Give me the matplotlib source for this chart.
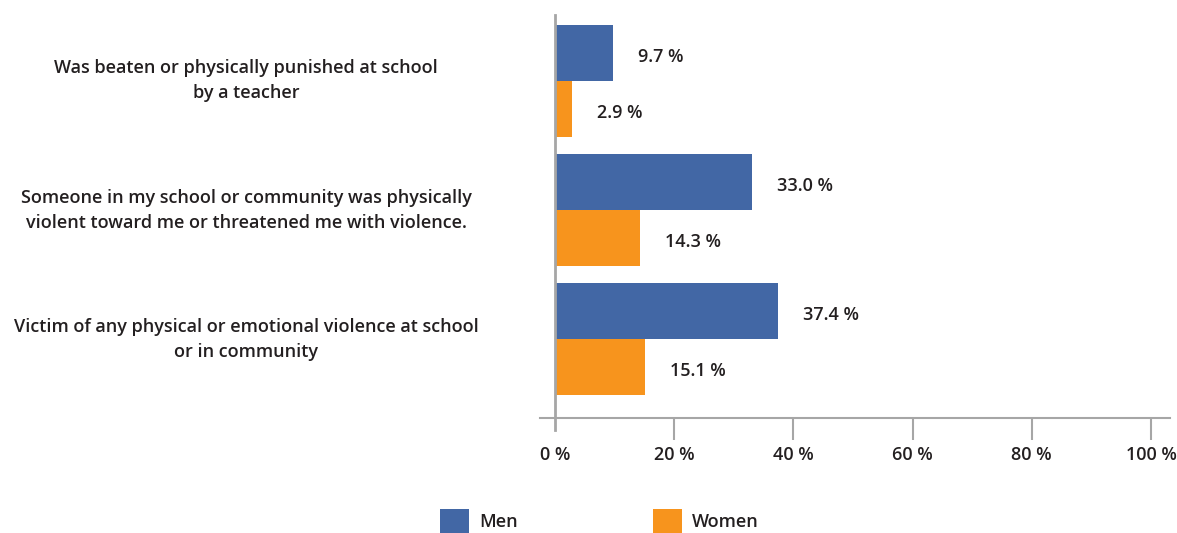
"""
Grouped horizontal bars: experiences of violence at school, men vs women
"""

import matplotlib

matplotlib.use("Agg")
import numpy as np
from matplotlib import pyplot as plt
from matplotlib.ticker import FixedLocator, FuncFormatter

categories = [
    "Was beaten or physically punished at school\nby a teacher",
    "Someone in my school or community was physically\nviolent toward me or threatened me with violence.",
    "Victim of any physical or emotional violence at school\nor in community",
]
men = [9.7, 33.0, 37.4]
women = [2.9, 14.3, 15.1]
series_names = ["Men", "Women"]
x_ticks = [0, 20, 40, 60, 80, 100]

BLUE = "#4267A5"
ORANGE = "#F7941D"
GRID_GREY = "#A6A6A6"
TEXT = "#231F20"

plt.rcParams["font.family"] = ["Open Sans", "DejaVu Sans"]
plt.rcParams["font.size"] = 13.0
plt.rcParams["font.weight"] = "semibold"

fig = plt.figure(figsize=(11.77, 5.33), dpi=100)
ax = fig.add_axes([0.4588, 0.2158, 0.5353, 0.7561])

y = np.arange(len(categories))
h = 0.435
bars_m = ax.barh(y - h / 2, men, height=h, color=BLUE, label=series_names[0], zorder=2)
bars_w = ax.barh(y + h / 2, women, height=h, color=ORANGE, label=series_names[1], zorder=2)

# value labels just past the end of each bar
for bars, vals in ((bars_m, men), (bars_w, women)):
    for b, v in zip(bars, vals):
        ax.annotate(
            f"{v:.1f} %",
            xy=(v, b.get_y() + b.get_height() / 2),
            xytext=(18, -3),
            textcoords="offset points",
            ha="left",
            va="center",
            color=TEXT,
        )

ax.set_xlim(-2.5, 103.2)
ax.set_ylim(2.61, -0.51)

for side in ("top", "right", "left"):
    ax.spines[side].set_visible(False)
ax.spines["bottom"].set_color(GRID_GREY)
ax.spines["bottom"].set_linewidth(1.5)

# vertical axis line at zero, poking slightly below the baseline
ax.plot(
    [0, 0], [-0.03, 1], color=GRID_GREY, lw=2,
    transform=ax.get_xaxis_transform(), clip_on=False, zorder=3,
)

pct = FuncFormatter(lambda v, _: f"{v:.0f} %")
ax.xaxis.set_major_locator(FixedLocator(x_ticks[1:]))
ax.xaxis.set_minor_locator(FixedLocator(x_ticks[:1]))
ax.xaxis.set_major_formatter(pct)
ax.xaxis.set_minor_formatter(pct)
ax.tick_params(axis="x", which="major", length=16, width=1.5, color=GRID_GREY,
               pad=4, labelcolor=TEXT, labelsize=13.0)
ax.tick_params(axis="x", which="minor", length=0, pad=20, labelcolor=TEXT,
               labelsize=13.0)
ax.set_yticks([])

# category labels centred in the left margin
lab_tr = matplotlib.transforms.blended_transform_factory(fig.transFigure, ax.transData)
for yi, cat in zip(y, categories):
    ax.text(246 / 1177, yi, cat, transform=lab_tr, ha="center", va="center",
            color=TEXT, linespacing=1.5)

fig.legend(
    handles=[bars_m, bars_w],
    labels=series_names,
    loc="upper left",
    bbox_to_anchor=(440 / 1177, 1 - 509 / 533),
    ncol=2,
    frameon=False,
    borderpad=0,
    borderaxespad=0,
    handlelength=1.6,
    handleheight=1.65,
    handletextpad=0.55,
    columnspacing=7.5,
    labelcolor=TEXT,
)

fig.savefig("out.png", dpi=100)
